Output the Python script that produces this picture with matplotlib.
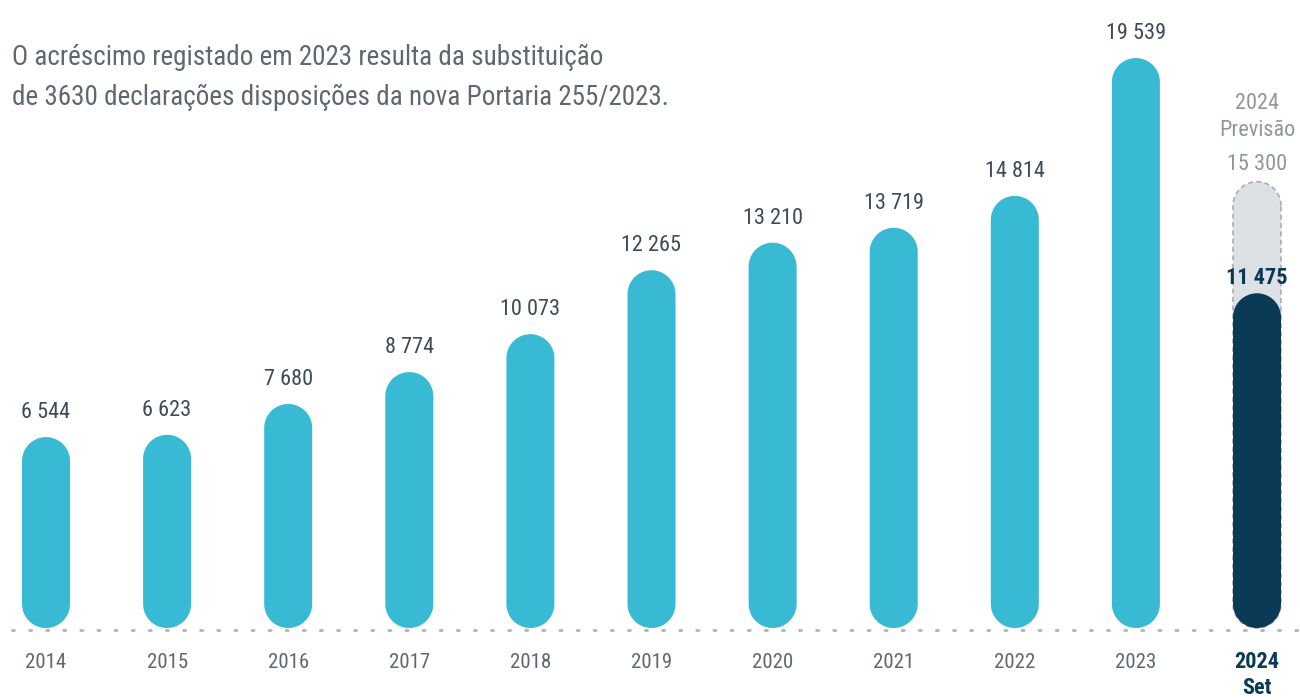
import matplotlib
matplotlib.use("Agg")
import numpy as np
import matplotlib.pyplot as plt
from matplotlib import font_manager
from matplotlib.patches import Polygon

# =====================================================
# DATA
# =====================================================

years = ["2014", "2015", "2016", "2017", "2018", "2019", "2020", "2021", "2022", "2023"]
values = [6544, 6623, 7680, 8774, 10073, 12265, 13210, 13719, 14814, 19539]

last_label = "2024\nSet"
last_value = 11475
forecast_label = "2024\nPrevisão"
forecast_value = 15300

note = ("O acréscimo registado em 2023 resulta da substituição\n"
        "de 3630 declarações disposições da nova Portaria 255/2023.")

# =====================================================
# STYLE
# =====================================================

CYAN = "#38b9d4"
NAVY = "#0b3a57"
GREY_FILL = "#dde1e5"
GREY_EDGE = "#a9aeb3"
TXT = "#3d4a57"
TXT_LIGHT = "#5f6870"
TXT_FORE = "#8f969c"

# pick a condensed face if one is installed
names = {f.name for f in font_manager.fontManager.ttflist}
stretches = {(f.name, f.stretch) for f in font_manager.fontManager.ttflist}
FONT = ["DejaVu Sans"]
STRETCH = "normal"
for cand in ["Roboto Condensed", "Open Sans Condensed", "Liberation Sans Narrow"]:
    if cand in names:
        FONT = [cand, "DejaVu Sans"]
        break
else:
    if any(n == "DejaVu Sans" and s in ("condensed", 75, "semi-condensed") for n, s in stretches):
        STRETCH = "condensed"
    elif "Roboto" in names:
        FONT = ["Roboto", "DejaVu Sans"]

W, H = 1300, 700
fig = plt.figure(figsize=(W / 100, H / 100), dpi=100)
ax = fig.add_axes([0, 0, 1, 1])
ax.set_axis_off()

px_per_x = 121.1
px_per_val = 0.02917
x_lo = -46 / px_per_x
y_lo = -72 / px_per_val
ax.set_xlim(x_lo, x_lo + W / px_per_x)
ax.set_ylim(y_lo, y_lo + H / px_per_val)

r_x = 24 / px_per_x      # half bar width in x units
r_y = 24 / px_per_val    # same radius in value units


def pill(x, v, **kw):
    t = np.linspace(0, np.pi, 40)
    top = np.column_stack([x + r_x * np.cos(t), v - r_y + r_y * np.sin(t)])
    bot = np.column_stack([x - r_x * np.cos(t), r_y - r_y * np.sin(t)])
    ax.add_patch(Polygon(np.vstack([top, bot]), closed=True, **kw))


def fmt(v):
    return f"{v:,}".replace(",", " ")


txt = dict(family=FONT, fontstretch=STRETCH)

# =====================================================
# BARS
# =====================================================

for i, v in enumerate(values):
    pill(i, v, facecolor=CYAN, edgecolor="none")
    ax.annotate(fmt(v), (i, v), xytext=(0, 10), textcoords="offset points",
                ha="center", va="bottom", fontsize=16, color=TXT, **txt)
    ax.text(i, y_lo + 37 / px_per_val, years[i], ha="center", va="center",
            fontsize=15, color=TXT_LIGHT, **txt)

n = len(values)
pill(n, forecast_value, facecolor=GREY_FILL, edgecolor=GREY_EDGE,
     linestyle=(0, (3, 2)), linewidth=1.2)
pill(n, last_value, facecolor=NAVY, edgecolor="none")

ax.annotate(fmt(last_value), (n, last_value), xytext=(0, 3), textcoords="offset points",
            ha="center", va="bottom", fontsize=16, color=NAVY,
            fontweight="bold", **txt)
ax.annotate(fmt(forecast_value), (n, forecast_value), xytext=(0, 5),
            textcoords="offset points", ha="center", va="bottom",
            fontsize=16, color=TXT_FORE, **txt)
ax.annotate(forecast_label, (n, forecast_value), xytext=(0, 29),
            textcoords="offset points", ha="center", va="bottom",
            fontsize=16, color=TXT_FORE, linespacing=1.4, **txt)
ax.text(n, y_lo + 25 / px_per_val, last_label, ha="center", va="center",
        fontsize=16, color=NAVY, fontweight="bold", linespacing=1.25, **txt)

# dotted baseline
ax.plot([x_lo + 12 / px_per_x, x_lo + W / px_per_x], [-80, -80],
        color="#b0bac3", linestyle=(0, (0.6, 5)), linewidth=2.2,
        dash_capstyle="round")

# note
fig.text(12 / W, 1 - 77 / H, note, ha="left", va="center", fontsize=19.5,
         color=TXT_LIGHT, linespacing=1.6, **txt)

fig.savefig("out.png", dpi=100)
print("Saved out.png")
